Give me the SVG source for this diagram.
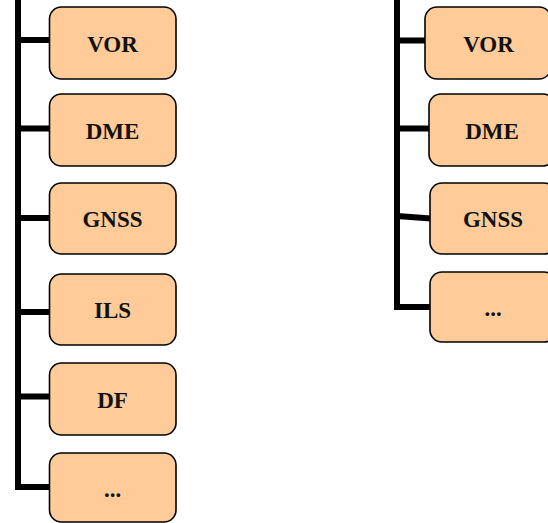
<svg xmlns="http://www.w3.org/2000/svg" width="548" height="523" viewBox="0 0 548 523">
<style>
.box{fill:#ffcc99;stroke:#000;stroke-width:1.6}
.lbl{font-family:"Liberation Serif","DejaVu Serif",serif;font-weight:bold;font-size:23px;fill:#111;text-anchor:middle}
.wire{fill:none;stroke:#000;stroke-width:6;stroke-linejoin:miter;stroke-linecap:butt}
</style>
<rect width="548" height="523" fill="#fff"/>
<g id="connectors">
<path class="wire" d="M18,0 V487 H50"/>
<path class="wire" d="M18,40 H50 M18,128.5 H50 M18,218 H50 M18,312 H50 M18,396.5 H50"/>
<path class="wire" d="M397,0 V307 H431"/>
<path class="wire" d="M397,40.5 H426 M397,128.5 H430 M397,216 L431,218.5"/>
</g>
<g id="left-vor"><rect class="box" x="49.5" y="7" width="126.5" height="72" rx="12"/><text class="lbl" x="112.5" y="52">VOR</text></g>
<g id="left-dme"><rect class="box" x="49.5" y="94" width="126.5" height="72" rx="12"/><text class="lbl" x="112.5" y="139">DME</text></g>
<g id="left-gnss"><rect class="box" x="49.5" y="183" width="126.5" height="71" rx="12"/><text class="lbl" x="112.5" y="227">GNSS</text></g>
<g id="left-ils"><rect class="box" x="49.5" y="274" width="126.5" height="71" rx="12"/><text class="lbl" x="112.5" y="318">ILS</text></g>
<g id="left-df"><rect class="box" x="49.5" y="363" width="126.5" height="72" rx="12"/><text class="lbl" x="112.5" y="408">DF</text></g>
<g id="left-more"><rect class="box" x="49.5" y="453" width="126.5" height="69" rx="12"/><text class="lbl" x="112.5" y="497">...</text></g>
<g id="right-vor"><rect class="box" x="425" y="7" width="126" height="72" rx="12"/><text class="lbl" x="488.5" y="52">VOR</text></g>
<g id="right-dme"><rect class="box" x="429" y="94" width="126" height="72" rx="12"/><text class="lbl" x="492" y="139">DME</text></g>
<g id="right-gnss"><rect class="box" x="430" y="183" width="126" height="71" rx="12"/><text class="lbl" x="493" y="227">GNSS</text></g>
<g id="right-more"><rect class="box" x="430" y="272" width="126" height="70" rx="12"/><text class="lbl" x="493" y="316">...</text></g>
</svg>
